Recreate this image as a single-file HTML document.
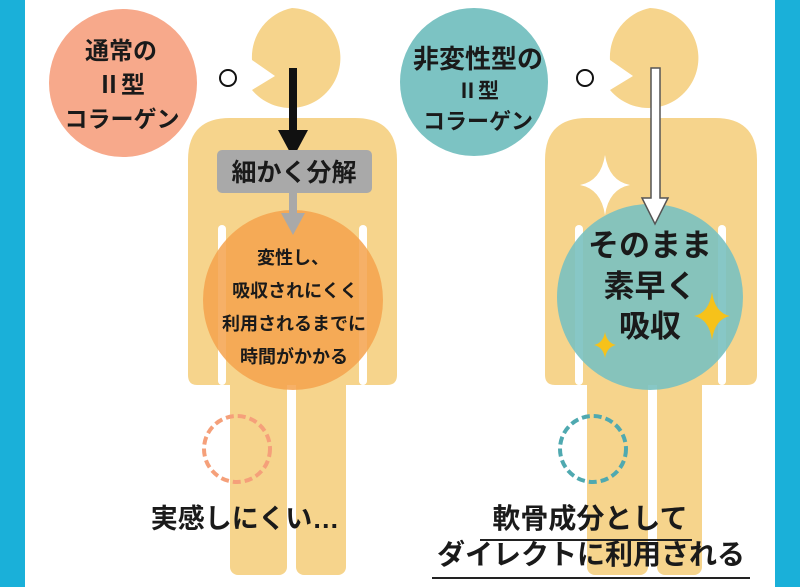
<!DOCTYPE html>
<html><head><meta charset="utf-8"><style>
html,body{margin:0;padding:0;background:#fff;}
svg{display:block;}
text{font-family:"Liberation Sans","Noto Sans CJK JP",sans-serif;font-weight:bold;fill:#1a1a1a;}
</style></head><body>
<svg width="800" height="587" viewBox="0 0 800 587" xmlns="http://www.w3.org/2000/svg">
<rect x="0" y="0" width="800" height="587" fill="#fff"/>
<rect x="0" y="0" width="25" height="587" fill="#1ab0d9"/>
<rect x="775" y="0" width="25" height="587" fill="#1ab0d9"/>

<!-- LEFT FIGURE -->
<g fill="#f6d48c">
  <path d="M292,8 a50,50 0 1,1 -40,82 L275,76 L252,60 A50,50 0 0,1 292,8 Z"/>
  <path d="M188,160 Q188,118 230,118 L355,118 Q397,118 397,160 L397,375 Q397,385 387,385 L197,385 Q188,385 188,375 Z"/>
  <rect x="230" y="360" width="57" height="215" rx="8"/>
  <rect x="296" y="360" width="50" height="215" rx="8"/>
</g>
<rect x="218" y="225" width="8" height="160" rx="4" fill="#fff"/>
<rect x="359" y="225" width="8" height="160" rx="4" fill="#fff"/>
<rect x="287" y="390" width="9" height="200" rx="4" fill="#fff"/>
<circle cx="293" cy="300" r="90" fill="#f5a24c" opacity="0.85"/>
<circle cx="123" cy="83" r="74" fill="#f7a98b"/>
<text x="121" y="59" font-size="24" text-anchor="middle">通常の</text>
<text x="121" y="93" font-size="24" text-anchor="middle" font-family="Liberation Serif,serif">Ⅱ型</text>
<text x="122" y="127" font-size="23" text-anchor="middle">コラーゲン</text>
<circle cx="228" cy="78" r="8" fill="#fff" stroke="#111" stroke-width="2"/>
<rect x="289" y="68" width="8" height="65" fill="#111"/>
<polygon points="278,130 308,130 293,158" fill="#111"/>
<rect x="217" y="150" width="155" height="43" rx="5" fill="#a9a9a9"/>
<text x="294" y="181" font-size="25" text-anchor="middle">細かく分解</text>
<rect x="289" y="193" width="8" height="22" fill="#a9a9a9"/>
<polygon points="281,213 305,213 293,235" fill="#a9a9a9"/>
<text x="293" y="264" font-size="18" text-anchor="middle">変性し、</text>
<text x="295" y="297" font-size="18" text-anchor="middle">吸収されにくく</text>
<text x="294" y="330" font-size="18" text-anchor="middle">利用されるまでに</text>
<text x="294" y="363" font-size="18" text-anchor="middle">時間がかかる</text>
<circle cx="237" cy="449" r="33" fill="none" stroke="#f5a07a" stroke-width="4" stroke-dasharray="8,4"/>
<text x="245" y="528" font-size="27" text-anchor="middle">実感しにくい…</text>

<!-- RIGHT FIGURE -->
<g fill="#f6d48c">
  <path d="M650,8 a50,50 0 1,1 -40,82 L633,76 L610,60 A50,50 0 0,1 650,8 Z"/>
  <path d="M545,160 Q545,118 587,118 L715,118 Q757,118 757,160 L757,375 Q757,385 747,385 L555,385 Q545,385 545,375 Z"/>
  <rect x="587" y="360" width="61" height="215" rx="8"/>
  <rect x="657" y="360" width="45" height="215" rx="8"/>
</g>
<rect x="575" y="225" width="8" height="160" rx="4" fill="#fff"/>
<rect x="718" y="225" width="8" height="160" rx="4" fill="#fff"/>
<rect x="648" y="390" width="8" height="200" rx="4" fill="#fff"/>
<circle cx="650" cy="297" r="93" fill="#7ac1c0" opacity="0.9"/>
<circle cx="474" cy="82" r="74" fill="#7cc3c3"/>
<text x="478" y="68" font-size="26" text-anchor="middle">非変性型の</text>
<text x="478" y="98" font-size="21" text-anchor="middle" font-family="Liberation Serif,serif">Ⅱ型</text>
<text x="478" y="129" font-size="22" text-anchor="middle">コラーゲン</text>
<circle cx="585" cy="78" r="8" fill="#fff" stroke="#111" stroke-width="2"/>
<path d="M651,68 L660,68 L660,198 L668,198 L655,224 L642,198 L651,198 Z" fill="#fff" stroke="#555" stroke-width="1.5"/>
<path d="M605,155 Q609,181 630,185 Q609,189 605,215 Q601,189 580,185 Q601,181 605,155 Z" fill="#fff"/>
<path d="M712,292 Q715,313 730,316 Q715,319 712,340 Q709,319 694,316 Q709,313 712,292 Z" fill="#f6c21a"/>
<path d="M605,332 Q607,343 616,345 Q607,347 605,358 Q603,347 594,345 Q603,343 605,332 Z" fill="#f6c21a"/>
<text x="650" y="256" font-size="31" text-anchor="middle">そのまま</text>
<text x="650" y="297" font-size="31" text-anchor="middle">素早く</text>
<text x="650" y="337" font-size="31" text-anchor="middle">吸収</text>
<circle cx="593" cy="449" r="33" fill="none" stroke="#4fa9b0" stroke-width="4" stroke-dasharray="8,4"/>
<text x="590" y="528" font-size="28" text-anchor="middle">軟骨成分として</text>
<rect x="480" y="539" width="212" height="2" fill="#222"/>
<text x="591" y="564" font-size="28" text-anchor="middle">ダイレクトに利用される</text>
<rect x="432" y="577" width="318" height="2" fill="#222"/>
</svg>
</body></html>
